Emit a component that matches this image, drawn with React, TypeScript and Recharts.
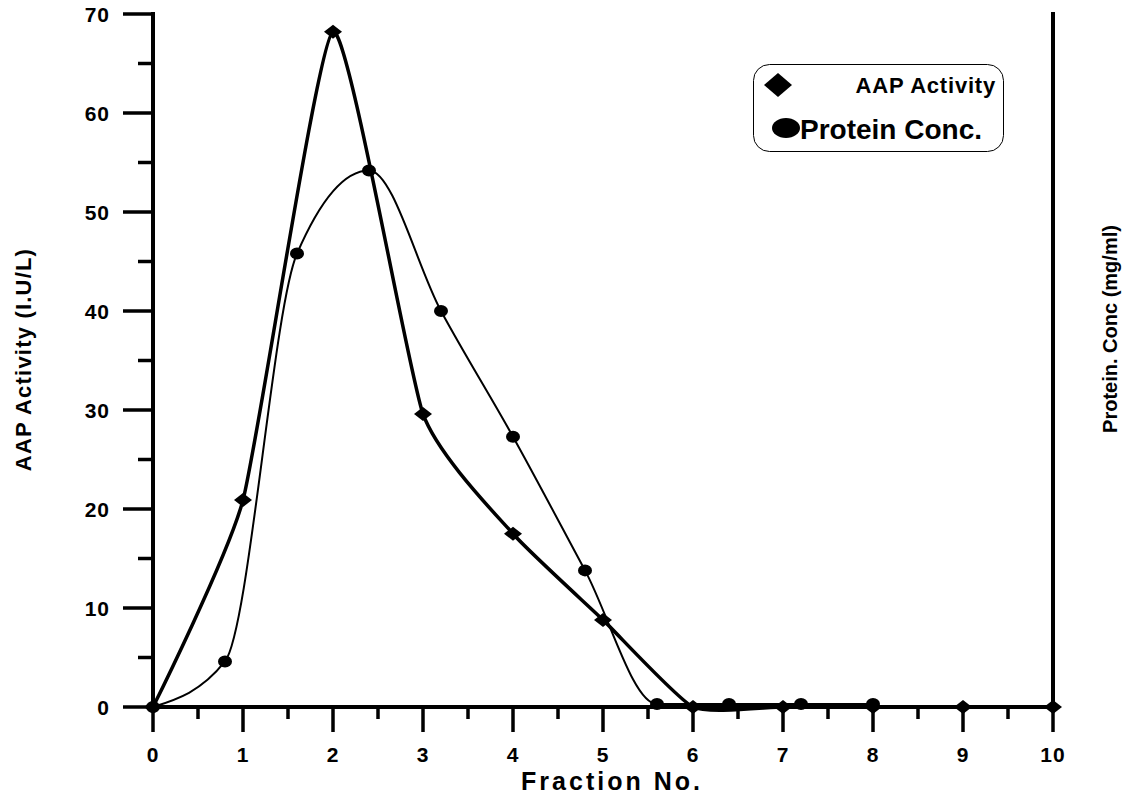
import React from 'react';
import { LineChart, Line, XAxis, YAxis, Legend } from 'recharts';

// AAP activity (diamonds, thick line) per fraction
const aapFractions = [0, 1, 2, 3, 4, 5, 6, 7, 8, 9, 10];
const aapActivity = [0, 20.9, 68.2, 29.6, 17.5, 8.8, 0, 0, 0, 0, 0];

// Protein concentration (circles, thin line)
const proteinFractions = [0, 0.8, 1.6, 2.4, 3.2, 4.0, 4.8, 5.6, 6.4, 7.2, 8.0];
const proteinConc = [0, 4.6, 45.8, 54.2, 40.0, 27.3, 13.8, 0.3, 0.3, 0.3, 0.3];

const xTicks = [0, 0.5, 1, 1.5, 2, 2.5, 3, 3.5, 4, 4.5, 5, 5.5, 6, 6.5, 7, 7.5, 8, 8.5, 9, 9.5, 10];
const yTicks = [0, 5, 10, 15, 20, 25, 30, 35, 40, 45, 50, 55, 60, 65, 70];

const xTitle = 'Fraction No.';
const yTitleLeft = 'AAP Activity (I.U/L)';
const yTitleRight = 'Protein. Conc (mg/ml)';

const aapData = aapFractions.map((x, i) => ({ x, y: aapActivity[i] }));
const proteinData = proteinFractions.map((x, i) => ({ x, y: proteinConc[i] }));

const FONT = "'Liberation Sans', Arial, sans-serif";

// cardinal spline, same maths as d3's curveCardinal
function cardinal(tension: number) {
  const k = (1 - tension) / 6;
  return (ctx: any) => {
    let x0 = NaN, x1 = NaN, x2 = NaN, y0 = NaN, y1 = NaN, y2 = NaN;
    let pt = 0;
    let line: number = NaN;
    const seg = (x: number, y: number) =>
      ctx.bezierCurveTo(x1 + k * (x2 - x0), y1 + k * (y2 - y0), x2 + k * (x1 - x), y2 + k * (y1 - y), x2, y2);
    return {
      areaStart() { line = 0; },
      areaEnd() { line = NaN; },
      lineStart() { x0 = x1 = x2 = y0 = y1 = y2 = NaN; pt = 0; },
      lineEnd() {
        if (pt === 2) ctx.lineTo(x2, y2);
        else if (pt === 3) seg(x1, y1);
        if (line || (line !== 0 && pt === 1)) ctx.closePath();
        line = 1 - line;
      },
      point(x: number, y: number) {
        x = +x; y = +y;
        switch (pt) {
          case 0: pt = 1; if (line) ctx.lineTo(x, y); else ctx.moveTo(x, y); break;
          case 1: pt = 2; x1 = x; y1 = y; break;
          case 2: pt = 3; seg(x, y); break;
          default: seg(x, y); break;
        }
        x0 = x1; x1 = x2; x2 = x;
        y0 = y1; y1 = y2; y2 = y;
      },
    };
  };
}

const XTick = (props: any) => {
  const { x, y, payload } = props;
  const major = Number.isInteger(payload.value);
  return (
    <g>
      <line x1={x} y1={y} x2={x} y2={y + (major ? 25 : 12)} stroke="#000" strokeWidth={3.5} />
      {major && (
        <text x={x} y={y + 47} textAnchor="middle" dominantBaseline="central" fontFamily={FONT} fontWeight="bold" fontSize={21} letterSpacing={1} fill="#000">
          {payload.value}
        </text>
      )}
    </g>
  );
};

const YTick = (props: any) => {
  const { x, y, payload } = props;
  const major = payload.value % 10 === 0;
  return (
    <g>
      <line x1={x - (major ? 30 : 15)} y1={y} x2={x} y2={y} stroke="#000" strokeWidth={3.5} />
      {major && (
        <text x={x - 43} y={y} textAnchor="end" dominantBaseline="central" fontFamily={FONT} fontWeight="bold" fontSize={21} letterSpacing={1} fill="#000">
          {payload.value}
        </text>
      )}
    </g>
  );
};

const renderXTitle = (p: any) => {
  const vb = p.viewBox;
  return (
    <text x={vb.x + vb.width / 2 + 9} y={vb.y + 74} textAnchor="middle" dominantBaseline="central" fontFamily={FONT} fontWeight="bold" fontSize={25} letterSpacing={3} fill="#000">
      {xTitle}
    </text>
  );
};

const renderLeftTitle = (p: any) => {
  const vb = p.viewBox;
  const cx = vb.x - 30;
  const cy = vb.y + vb.height / 2 - 1;
  return (
    <text x={cx} y={cy} transform={`rotate(-90 ${cx} ${cy})`} textAnchor="middle" dominantBaseline="central" fontFamily={FONT} fontWeight="bold" fontSize={22} letterSpacing={1.2} fill="#000">
      {yTitleLeft}
    </text>
  );
};

const renderRightTitle = (p: any) => {
  const vb = p.viewBox;
  const cx = vb.x + 57;
  const cy = vb.y + 315;
  return (
    <text x={cx} y={cy} transform={`rotate(-90 ${cx} ${cy})`} textAnchor="middle" dominantBaseline="central" fontFamily={FONT} fontWeight="bold" fontSize={20} fill="#000">
      {yTitleRight}
    </text>
  );
};

const renderDiamond = (p: any) => {
  const { cx, cy, index } = p;
  return <polygon key={`d-${index}`} points={`${cx - 9},${cy} ${cx},${cy - 7} ${cx + 9},${cy} ${cx},${cy + 7}`} fill="#000" />;
};

const renderCircle = (p: any) => {
  const { cx, cy, index } = p;
  return <ellipse key={`c-${index}`} cx={cx} cy={cy} rx={7} ry={6} fill="#000" />;
};

const renderLegend = (props: any) => {
  const items = props.payload || [];
  return (
    <svg width={251} height={88} style={{ display: 'block' }}>
      <rect x={0.5} y={0.5} width={250} height={87} rx={16} ry={16} fill="#fff" stroke="#000" strokeWidth={1} />
      <polygon points="11,21 25,9 39,21 25,33" fill="#000" />
      <text x={243} y={21} textAnchor="end" dominantBaseline="central" fontFamily={FONT} fontWeight="bold" fontSize={22} letterSpacing={0.8} fill="#000">
        {items[0] ? items[0].value : ''}
      </text>
      <ellipse cx={33} cy={64} rx={14} ry={10} fill="#000" />
      <text x={47} y={65} textAnchor="start" dominantBaseline="central" fontFamily={FONT} fontWeight="bold" fontSize={28} fill="#000">
        {items[1] ? items[1].value : ''}
      </text>
    </svg>
  );
};

const axisLineStyle = { stroke: '#000', strokeWidth: 4, strokeLinecap: 'square' as const };

export default function App() {
  return (
    <div style={{ margin: '-8px 0 0 -8px', width: 1130, height: 795 }}>
      <LineChart width={1130} height={795} margin={{ top: 14, right: 0, bottom: 8, left: 53 }}>
        <XAxis
          xAxisId="bottom"
          type="number"
          dataKey="x"
          domain={[0, 10]}
          ticks={xTicks}
          interval={0}
          tickSize={0}
          tickMargin={0}
          tickLine={false}
          axisLine={axisLineStyle}
          tick={<XTick />}
          height={80}
          label={renderXTitle}
        />
        <XAxis
          xAxisId="top"
          orientation="top"
          type="number"
          dataKey="x"
          domain={[0, 10]}
          height={0}
          tick={false}
          tickLine={false}
          axisLine={axisLineStyle}
        />
        <YAxis
          yAxisId="left"
          type="number"
          domain={[0, 70]}
          ticks={yTicks}
          interval={0}
          tickSize={0}
          tickMargin={0}
          tickLine={false}
          axisLine={axisLineStyle}
          tick={<YTick />}
          width={100}
          label={renderLeftTitle}
        />
        <YAxis
          yAxisId="right"
          orientation="right"
          type="number"
          domain={[0, 70]}
          tick={false}
          tickLine={false}
          axisLine={axisLineStyle}
          width={77}
          label={renderRightTitle}
        />
        <Legend
          layout="vertical"
          align="center"
          verticalAlign="middle"
          content={renderLegend}
          wrapperStyle={{ position: 'absolute', left: 753, top: 64, width: 251, height: 88 }}
        />
        <Line
          xAxisId="bottom"
          yAxisId="left"
          data={aapData}
          dataKey="y"
          name="AAP Activity"
          type={cardinal(0.5) as any}
          stroke="#000"
          strokeWidth={3.5}
          dot={renderDiamond}
          activeDot={false}
          isAnimationActive={false}
        />
        <Line
          xAxisId="bottom"
          yAxisId="right"
          data={proteinData}
          dataKey="y"
          name="Protein Conc."
          type="monotone"
          stroke="#000"
          strokeWidth={2}
          dot={renderCircle}
          activeDot={false}
          isAnimationActive={false}
        />
      </LineChart>
    </div>
  );
}
